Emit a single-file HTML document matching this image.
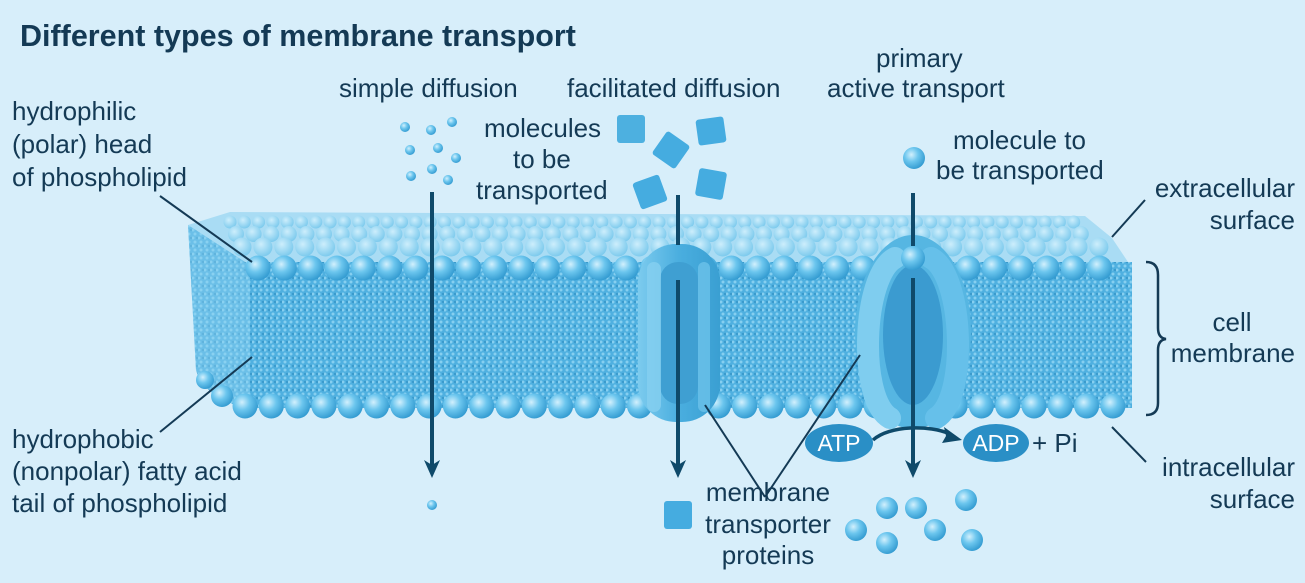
<!DOCTYPE html>
<html><head><meta charset="utf-8"><style>
html,body{margin:0;padding:0;background:#d7eefa;}
svg{display:block}
text{font-family:"Liberation Sans",sans-serif;fill:#143a55;font-size:26px}
</style></head><body>
<svg id="s" width="1305" height="583" viewBox="0 0 1305 583" xmlns="http://www.w3.org/2000/svg">
<defs>
<radialGradient id="ball" cx="0.38" cy="0.35" r="0.7">
<stop offset="0" stop-color="#d2f0fd"/><stop offset="0.45" stop-color="#6cc6ee"/><stop offset="1" stop-color="#2f98cf"/>
</radialGradient>
<radialGradient id="ball2" cx="0.4" cy="0.35" r="0.7">
<stop offset="0" stop-color="#cdeefc"/><stop offset="1" stop-color="#78c8ec"/>
</radialGradient>
<pattern id="tails" width="6" height="8" patternUnits="userSpaceOnUse">
<rect width="6" height="8" fill="#4fb0e0"/>
<circle cx="3" cy="2" r="1.5" fill="#86cff0"/><circle cx="1" cy="6" r="1.5" fill="#86cff0"/><circle cx="5" cy="6" r="1.2" fill="#3a9acc"/>
</pattern>
<linearGradient id="prot" x1="0" x2="1">
<stop offset="0" stop-color="#7ccbee"/><stop offset="0.5" stop-color="#4aaedf"/><stop offset="1" stop-color="#3a9fd2"/>
</linearGradient>
</defs>
<text x="20" y="46" style="font-weight:bold;font-size:30.5px">Different types of membrane transport</text>

<polygon points="188,225 230,212 1085,216 1112,238 1132,268 250,268" fill="#a9dcf4"/>
<path d="M188,225 L245,262 L1132,262 L1132,408 L245,408 C215,400 200,385 196,370 Z" fill="url(#tails)"/>
<path d="M188,225 L250,265 L250,408 C215,400 200,385 196,370 Z" fill="#8fd3f1" opacity="0.45"/>
<g id="spheres"></g>

<rect x="638" y="244" width="82" height="178" rx="38" fill="url(#prot)"/>
<rect x="660" y="262" width="38" height="142" rx="18" fill="#3f9fd2"/>
<rect x="647" y="262" width="14" height="150" rx="7" fill="#86d0f0" opacity="0.8"/>
<rect x="698" y="262" width="12" height="150" rx="6" fill="#6cc2ea" opacity="0.8"/>
<ellipse cx="913" cy="332" rx="58" ry="97" fill="#56b6e2"/>
<ellipse cx="913" cy="335" rx="30" ry="70" fill="#3b9bd0"/>
<path d="M895,258 C862,275 858,400 890,418" stroke="#7fcdef" stroke-width="22" fill="none" stroke-linecap="round"/>
<path d="M931,258 C964,275 968,400 936,418" stroke="#66c0ea" stroke-width="22" fill="none" stroke-linecap="round"/>
<circle cx="913" cy="258" r="12" fill="url(#ball)"/>

<g stroke="#0f4a6a" stroke-width="4" fill="none">
<line x1="432" y1="192" x2="432" y2="468"/>
<line x1="678" y1="195" x2="678" y2="245"/>
<line x1="678" y1="280" x2="678" y2="468"/>
<line x1="913" y1="193" x2="913" y2="246"/>
<line x1="913" y1="278" x2="913" y2="468"/>
<path d="M873,440 C890,425 930,425 950,434" stroke-width="3.5"/>
</g>
<g fill="#0f4a6a">
<polygon points="424,460 432,478 440,460 432,465"/>
<polygon points="670,460 678,478 686,460 678,465"/>
<polygon points="905,460 913,478 921,460 913,465"/>
<polygon points="944,427 962,440 942,443 946,436"/>
</g>
<g stroke="#143a55" stroke-width="2" fill="none">
<line x1="160" y1="196" x2="252" y2="262"/>
<line x1="160" y1="432" x2="252" y2="357"/>
<line x1="1145" y1="200" x2="1112" y2="237"/>
<line x1="1112" y1="427" x2="1146" y2="462"/>
<line x1="765" y1="497" x2="705" y2="405"/>
<line x1="765" y1="497" x2="860" y2="355"/>
<path d="M1146,262 Q1158,262 1158,275 L1158,328 Q1158,338 1166,339 Q1158,340 1158,350 L1158,403 Q1158,415 1146,415" stroke-width="2.5"/>
</g>

<ellipse cx="839" cy="443" rx="34" ry="19" fill="#2a8fc6"/>
<text x="839" y="451" text-anchor="middle" style="fill:#fff;font-size:23px">ATP</text>
<ellipse cx="996" cy="443" rx="33" ry="19" fill="#2a8fc6"/>
<text x="996" y="451" text-anchor="middle" style="fill:#fff;font-size:23px">ADP</text>
<text x="1032" y="452">+ Pi</text>

<g fill="url(#ball)">
<circle cx="405" cy="127" r="5"/><circle cx="431" cy="130" r="5"/><circle cx="452" cy="122" r="5"/>
<circle cx="410" cy="150" r="5"/><circle cx="438" cy="148" r="5"/><circle cx="456" cy="158" r="5"/>
<circle cx="411" cy="176" r="5"/><circle cx="432" cy="169" r="5"/><circle cx="448" cy="180" r="5"/>
<circle cx="432" cy="505" r="5"/>
<circle cx="914" cy="158" r="11"/>
<circle cx="856" cy="530" r="11"/><circle cx="887" cy="508" r="11"/><circle cx="916" cy="508" r="11"/>
<circle cx="966" cy="500" r="11"/><circle cx="935" cy="530" r="11"/><circle cx="887" cy="543" r="11"/><circle cx="972" cy="540" r="11"/>
</g>
<g fill="#45ace0">
<rect x="617" y="115" width="28" height="28" rx="3" fill="#4db0e0"/>
<rect x="657" y="136" width="28" height="28" rx="3" transform="rotate(35 671 150)"/>
<rect x="697" y="118" width="28" height="26" rx="3" transform="rotate(-8 711 131)"/>
<rect x="636" y="178" width="28" height="28" rx="3" transform="rotate(-20 650 192)"/>
<rect x="697" y="170" width="28" height="28" rx="3" transform="rotate(10 711 184)"/>
<rect x="664" y="501" width="28" height="28" rx="3"/>
</g>

<text x="339" y="97">simple diffusion</text>
<text x="567" y="97">facilitated diffusion</text>
<text x="876" y="67">primary</text>
<text x="827" y="97">active transport</text>
<text x="484" y="137">molecules</text>
<text x="513" y="168">to be</text>
<text x="476" y="199">transported</text>
<text x="953" y="149">molecule to</text>
<text x="936" y="179">be transported</text>
<text x="12" y="120">hydrophilic</text>
<text x="12" y="153">(polar) head</text>
<text x="12" y="186">of phospholipid</text>
<text x="12" y="448">hydrophobic</text>
<text x="12" y="480">(nonpolar) fatty acid</text>
<text x="12" y="512">tail of phospholipid</text>
<text x="1295" y="197" text-anchor="end">extracellular</text>
<text x="1295" y="229" text-anchor="end">surface</text>
<text x="1232" y="331" text-anchor="middle">cell</text>
<text x="1295" y="362" text-anchor="end">membrane</text>
<text x="1295" y="476" text-anchor="end">intracellular</text>
<text x="1295" y="508" text-anchor="end">surface</text>
<text x="768" y="501" text-anchor="middle">membrane</text>
<text x="768" y="533" text-anchor="middle">transporter</text>
<text x="768" y="564" text-anchor="middle">proteins</text>
</svg>
<script>
var g=document.getElementById('spheres'),h='';
function c(x,y,r,f){h+='<circle cx="'+x+'" cy="'+y+'" r="'+r+'" fill="url(#'+f+')"/>';}
var rows=[[230,222,1080,6.5],[236,234,1095,8],[242,247,1108,9.5]];
rows.forEach(function(r){for(var x=r[0];x<=r[2];x+=r[3]*2.2)c(x,r[1],r[3],'ball2');});
for(var x=258;x<=1122;x+=26.3){c(x,268,12.5,'ball');}
for(var x=245;x<=1122;x+=26.3){c(x,406,12.5,'ball');}
c(222,396,11,'ball');c(205,380,9,'ball');
g.innerHTML=h;
</script>
</body></html>
